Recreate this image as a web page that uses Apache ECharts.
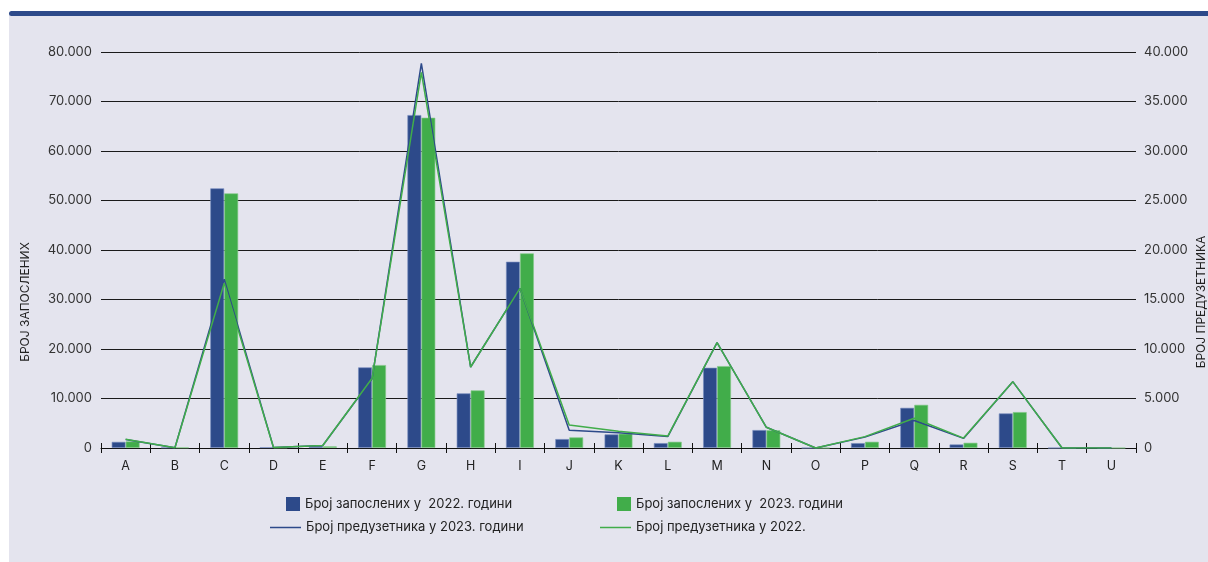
<!DOCTYPE html>
<html>
<head>
<meta charset="utf-8">
<script src="https://cdn.jsdelivr.net/npm/echarts@6/dist/echarts.min.js"></script>
<style>
html,body{margin:0;padding:0;background:#ffffff;}
#wrap{position:relative;width:1208px;height:562px;overflow:hidden;background:#ffffff;}
#bg{position:absolute;left:9px;top:14px;width:1199px;height:548px;background:#e4e4ee;}
#topbar{position:absolute;left:9px;top:11px;width:1199px;height:5px;background:#2d4a8a;border-radius:3px 0 0 3px;}
#chart{position:absolute;left:0;top:0;width:1208px;height:562px;}
</style>
</head>
<body>
<div id="wrap"><div id="bg"></div><div id="topbar"></div><div id="chart"></div></div>
<script>
const categories = ['A','B','C','D','E','F','G','H','I','J','K','L','M','N','O','P','Q','R','S','T','U'];
const employees2022 = [1250, 100, 52470, 150, 450, 16300, 67270, 11050, 37640, 1820, 2760, 1000, 16220, 3640, 0, 1000, 8130, 730, 7000, 0, 0];
const employees2023 = [1350, 100, 51450, 100, 350, 16770, 66730, 11650, 39330, 2160, 2900, 1270, 16560, 3600, 0, 1270, 8730, 1070, 7270, 0, 0];
const entrepreneurs2023 = [850, 30, 17050, 50, 250, 7000, 38850, 8180, 16130, 1800, 1550, 1150, 10640, 2090, 0, 1100, 2770, 970, 6700, 0, 0];
const entrepreneurs2022 = [880, 30, 16650, 50, 250, 7040, 37950, 8180, 16130, 2320, 1690, 1200, 10640, 2090, 0, 1150, 3000, 1000, 6700, 0, 0];
const seriesNames = ['Број запослених у  2022. години', 'Број запослених у  2023. години', 'Број предузетника у 2023. години', 'Број предузетника у 2022.'];
const leftAxisName = 'БРОЈ ЗАПОСЛЕНИХ';
const rightAxisName = 'БРОЈ ПРЕДУЗЕТНИКА';

const FONT = 'Inter';
const BLUE = '#2d4a8a';
const GREEN = '#41ad4a';
function fmt(v){ return String(v).replace(/\B(?=(\d{3})+(?!\d))/g, '.'); }

const chart = echarts.init(document.getElementById('chart'), null, {renderer:'canvas'});
const legendText = {fontFamily: FONT, fontSize: 13, color: '#222'};
const legendItem = {borderWidth: 0};
chart.setOption({
  backgroundColor: 'transparent',
  animation: false,
  grid: {left: 101, right: 72, top: 52, bottom: 114, containLabel: false},
  legend: [
    {data:[seriesNames[0]], left: 286, top: 497, padding: 0, itemWidth: 14, itemHeight: 14, icon: 'rect', itemStyle: legendItem, textStyle: legendText},
    {data:[seriesNames[1]], left: 617, top: 497, padding: 0, itemWidth: 14, itemHeight: 14, icon: 'rect', itemStyle: legendItem, textStyle: legendText},
    {data:[seriesNames[2]], left: 270, top: 521, padding: 0, itemWidth: 31, itemHeight: 1.5, icon: 'rect', itemStyle: legendItem, textStyle: legendText},
    {data:[seriesNames[3]], left: 600, top: 521, padding: 0, itemWidth: 31, itemHeight: 1.5, icon: 'rect', itemStyle: legendItem, textStyle: legendText}
  ],
  xAxis: [
    {type:'category', data: categories, boundaryGap: true,
     axisLine:{show:true, lineStyle:{color:'#111', width:1}},
     axisTick:{show:true, length:5, lineStyle:{color:'#111'}},
     axisLabel:{fontFamily: FONT, fontSize: 12.5, color:'#222', margin: 12}},
    {type:'category', data: categories, boundaryGap: true, position:'bottom',
     axisLine:{show:false}, axisLabel:{show:false},
     axisTick:{show:true, inside:true, length:5, lineStyle:{color:'#111'}}}
  ],
  yAxis: [
    {type:'value', min:0, max:80000, interval:10000, position:'left',
     axisLine:{show:false}, axisTick:{show:false},
     axisLabel:{fontFamily: FONT, fontSize: 13, color:'#333', margin: 9, formatter: fmt},
     splitLine:{show:true, lineStyle:{color:'#1a1a1a', width:1}}},
    {type:'value', min:0, max:40000, interval:5000, position:'right',
     axisLine:{show:false}, axisTick:{show:false},
     axisLabel:{fontFamily: FONT, fontSize: 13, color:'#333', margin: 8, formatter: fmt},
     splitLine:{show:false}}
  ],
  graphic: [
    {type:'text', rotation: Math.PI/2, x: 25, y: 302,
     style:{text: leftAxisName, fontFamily: FONT, fontSize: 12, fill:'#222', textAlign:'center', textVerticalAlign:'middle'}},
    {type:'text', rotation: Math.PI/2, x: 1201, y: 302,
     style:{text: rightAxisName, fontFamily: FONT, fontSize: 12, fill:'#222', textAlign:'center', textVerticalAlign:'middle'}}
  ],
  series: [
    {name: seriesNames[0], type:'bar', data: employees2022, barWidth: 14, barGap: '0%', yAxisIndex:0,
     itemStyle:{color: BLUE, borderColor:'rgba(120,140,190,0.8)', borderWidth:0.8}},
    {name: seriesNames[1], type:'bar', data: employees2023, barWidth: 14, barGap: '0%', yAxisIndex:0,
     itemStyle:{color: GREEN, borderColor:'rgba(130,200,135,0.8)', borderWidth:0.8}},
    {name: seriesNames[2], type:'line', data: entrepreneurs2023, yAxisIndex:1, symbol:'none', showSymbol:false,
     lineStyle:{color: BLUE, width:1.5}, itemStyle:{color: BLUE}},
    {name: seriesNames[3], type:'line', data: entrepreneurs2022, yAxisIndex:1, symbol:'none', showSymbol:false,
     lineStyle:{color: GREEN, width:1.5}, itemStyle:{color: GREEN}}
  ]
});
</script>
</body>
</html>
